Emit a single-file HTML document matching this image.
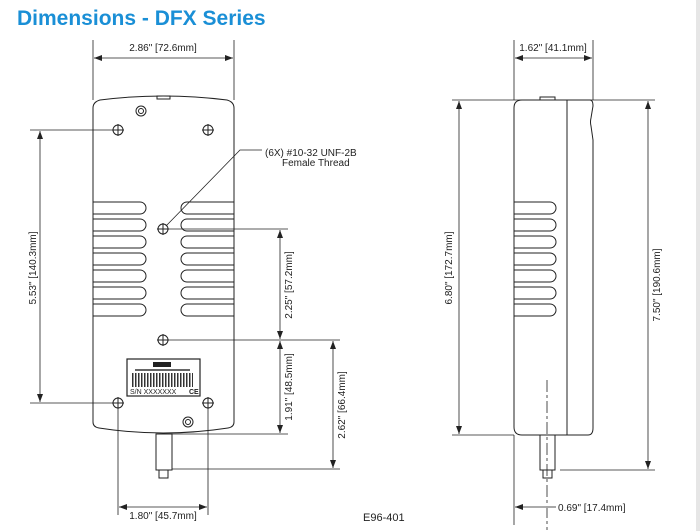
<!DOCTYPE html>
<html><head><style>
html,body{margin:0;padding:0;background:#fff;}
body{width:700px;height:531px;overflow:hidden;position:relative;}
svg{position:absolute;left:0;top:0;}
</style></head><body>
<svg width="700" height="531" viewBox="0 0 700 531" xmlns="http://www.w3.org/2000/svg" font-family="Liberation Sans, sans-serif">
<defs>
<marker id="a" markerWidth="8" markerHeight="6" refX="8" refY="3" orient="auto-start-reverse" markerUnits="userSpaceOnUse"><path d="M0,0 L8,3 L0,6 z" fill="#222"/></marker>
</defs>
<rect x="696" y="0" width="4" height="531" fill="#e6e6e6"/>
<text x="17" y="25" font-size="21" font-weight="bold" fill="#1a8fd6">Dimensions - DFX Series</text>
<g stroke="#222" stroke-width="1" fill="none">
<!-- front body -->
<path d="M93,108 Q93,102 100,100 Q163,92 227,100 Q234,102 234,108 L234,422 Q234,427 228,428 Q163,438 99,428 Q93,427 93,422 Z"/>
<rect x="157" y="96" width="13" height="3"/>
<!-- shaft -->
<rect x="156" y="434" width="16" height="36"/>
<rect x="159" y="470" width="9" height="8"/>
<!-- vents -->
<g>
<path d="M93,202 H140 A6,6 0 0 1 140,214 H93"/><path d="M93,219 H140 A6,6 0 0 1 140,231 H93"/>
<path d="M93,236 H140 A6,6 0 0 1 140,248 H93"/><path d="M93,253 H140 A6,6 0 0 1 140,265 H93"/>
<path d="M93,270 H140 A6,6 0 0 1 140,282 H93"/><path d="M93,287 H140 A6,6 0 0 1 140,299 H93"/>
<path d="M93,304 H140 A6,6 0 0 1 140,316 H93"/>
<path d="M234,202 H187 A6,6 0 0 0 187,214 H234"/><path d="M234,219 H187 A6,6 0 0 0 187,231 H234"/>
<path d="M234,236 H187 A6,6 0 0 0 187,248 H234"/><path d="M234,253 H187 A6,6 0 0 0 187,265 H234"/>
<path d="M234,270 H187 A6,6 0 0 0 187,282 H234"/><path d="M234,287 H187 A6,6 0 0 0 187,299 H234"/>
<path d="M234,304 H187 A6,6 0 0 0 187,316 H234"/>
</g>
<!-- holes -->
<g>
<circle cx="118" cy="130" r="5"/><path d="M112,130h12M118,124v12"/>
<circle cx="208" cy="130" r="5"/><path d="M202,130h12M208,124v12"/>
<circle cx="163" cy="229" r="5"/><path d="M157,229h12M163,223v12"/>
<circle cx="163" cy="340" r="5"/><path d="M157,340h12M163,334v12"/>
<circle cx="118" cy="403" r="5"/><path d="M112,403h12M118,397v12"/>
<circle cx="208" cy="403" r="5"/><path d="M202,403h12M208,397v12"/>
<circle cx="141" cy="111" r="5"/><circle cx="141" cy="111" r="2.5"/>
<circle cx="188" cy="422" r="5"/><circle cx="188" cy="422" r="2.5"/>
</g>
<!-- label -->
<rect x="127" y="359" width="73" height="37" stroke-width="1.2"/>
</g>
<rect x="153" y="362" width="18" height="5" fill="#222"/>
<rect x="135" y="369" width="55" height="2" fill="#666"/>
<g fill="#333"><rect x="131" y="373" width="62" height="14" fill="url(#bc)"/></g>
<defs><pattern id="bc" width="3" height="14" patternUnits="userSpaceOnUse"><rect width="1.5" height="14" fill="#333"/></pattern></defs>
<text x="130" y="394" font-size="7" fill="#222">S/N  XXXXXXX</text>
<text x="189" y="394" font-size="7" font-weight="bold" fill="#222">CE</text>

<g stroke="#222" stroke-width="0.8" fill="none">
<!-- top width dim -->
<path d="M93,40V100M234,40V100"/>
<path d="M94,58H233" marker-start="url(#a)" marker-end="url(#a)"/>
<!-- 5.53 -->
<path d="M30,130H112M30,403H112"/>
<path d="M40,131V402" marker-start="url(#a)" marker-end="url(#a)"/>
<!-- leader -->
<path d="M166,226 L240,150 H262"/>
<!-- right dims -->
<path d="M169,229H288M169,340H340M172,434H288M172,469H340"/>
<path d="M280,230V339" marker-start="url(#a)" marker-end="url(#a)"/>
<path d="M280,341V433" marker-start="url(#a)" marker-end="url(#a)"/>
<path d="M333,341V468" marker-start="url(#a)" marker-end="url(#a)"/>
<!-- bottom 1.80 -->
<path d="M118,409V515M208,409V515"/>
<path d="M119,507H207" marker-start="url(#a)" marker-end="url(#a)"/>
</g>
<g font-size="10" fill="#222">
<text x="163" y="51" text-anchor="middle">2.86" [72.6mm]</text>
<text x="163" y="519" text-anchor="middle">1.80" [45.7mm]</text>
<text x="265" y="156">(6X) #10-32 UNF-2B</text>
<text x="282" y="166">Female Thread</text>
<text transform="translate(36,268) rotate(-90)" text-anchor="middle">5.53" [140.3mm]</text>
<text transform="translate(292,285) rotate(-90)" text-anchor="middle">2.25" [57.2mm]</text>
<text transform="translate(292,387) rotate(-90)" text-anchor="middle">1.91" [48.5mm]</text>
<text transform="translate(345,405) rotate(-90)" text-anchor="middle">2.62" [66.4mm]</text>
<text x="363" y="521" font-size="11">E96-401</text>
</g>

<!-- side view -->
<g stroke="#222" stroke-width="1" fill="none">
<path d="M522,100 H590 Q593,100 593,106 L591,118 Q590,122 591,126 L593,140 V428 Q593,435 588,435 H522 Q514,435 514,427 V108 Q514,100 522,100 Z"/>
<path d="M567,100V435"/>
<rect x="540" y="97" width="15" height="3"/>
<path d="M593,233v20M593,270v18"/>
<rect x="540" y="435" width="15" height="35"/>
<rect x="543" y="470" width="9" height="8"/>
<path d="M514,202 H550 A6,6 0 0 1 550,214 H514"/><path d="M514,219 H550 A6,6 0 0 1 550,231 H514"/>
<path d="M514,236 H550 A6,6 0 0 1 550,248 H514"/><path d="M514,253 H550 A6,6 0 0 1 550,265 H514"/>
<path d="M514,270 H550 A6,6 0 0 1 550,282 H514"/><path d="M514,287 H550 A6,6 0 0 1 550,299 H514"/>
<path d="M514,304 H550 A6,6 0 0 1 550,316 H514"/>
</g>
<g stroke="#222" stroke-width="0.8" fill="none">
<path d="M547,380V530" stroke-dasharray="12,3,3,3"/>
<path d="M514,40V100M593,40V100"/>
<path d="M515,58H592" marker-start="url(#a)" marker-end="url(#a)"/>
<path d="M452,100H655M452,435H514M560,470H655"/>
<path d="M459,101V434" marker-start="url(#a)" marker-end="url(#a)"/>
<path d="M648,101V469" marker-start="url(#a)" marker-end="url(#a)"/>
<path d="M514,435V525"/>
<path d="M515,507H546" marker-start="url(#a)"/>
<path d="M548,507H556"/>
</g>
<g font-size="10" fill="#222">
<text x="553" y="51" text-anchor="middle">1.62" [41.1mm]</text>
<text x="558" y="511">0.69" [17.4mm]</text>
<text transform="translate(452,268) rotate(-90)" text-anchor="middle">6.80" [172.7mm]</text>
<text transform="translate(660,285) rotate(-90)" text-anchor="middle">7.50" [190.6mm]</text>
</g>
</svg>
</body></html>
